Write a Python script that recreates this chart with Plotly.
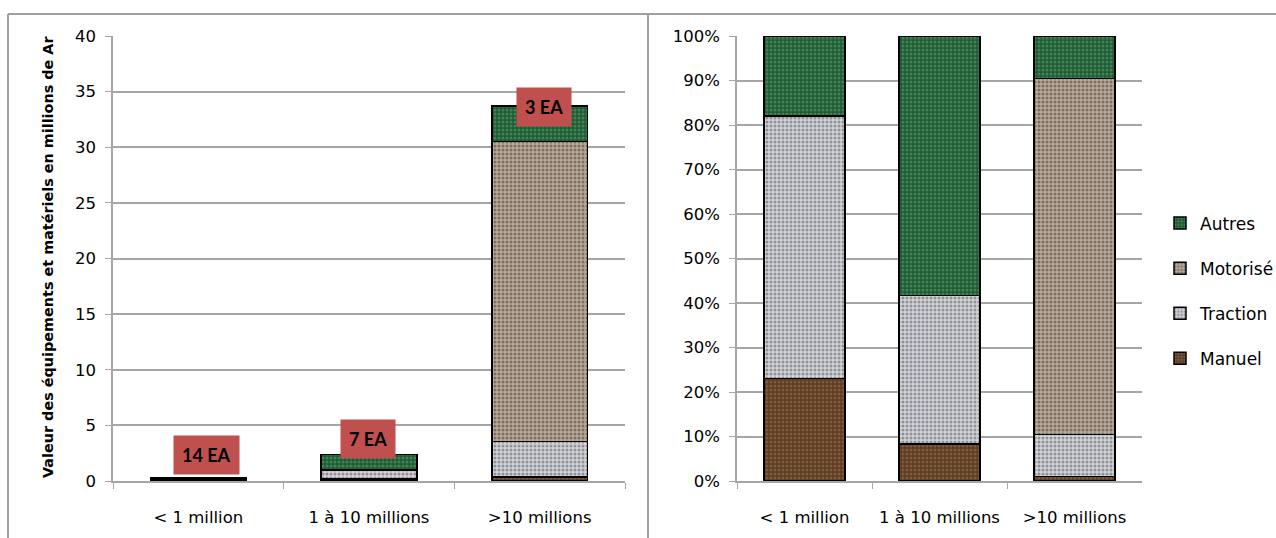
import plotly.graph_objects as go

# Farm size classes (value of equipment owned)
categories = ["< 1 million", "1 à 10 millions", ">10 millions"]

# Value of equipment and tools per class, in millions of Ar
manuel = [0.069, 0.20, 0.34]
traction = [0.177, 0.80, 3.20]
motorise = [0.0, 0.0, 26.96]
autres = [0.054, 1.40, 3.20]

# Number of farms (EA) in each class
ea_labels = ["14 EA", "7 EA", "3 EA"]

series = [
    ("Manuel", manuel),
    ("Traction", traction),
    ("Motorisé", motorise),
    ("Autres", autres),
]

# Textured-looking fills: base colour with a fine dotted grain on top
fills = {
    "Manuel": dict(bg="#5b3b22", fg="#7f5a3a"),
    "Traction": dict(bg="#d2d4d8", fg="#8e9096"),
    "Motorisé": dict(bg="#b9aa9a", fg="#7d6e60"),
    "Autres": dict(bg="#1f5a33", fg="#3f8257"),
}
legend_rank = {"Autres": 1, "Motorisé": 2, "Traction": 3, "Manuel": 4}

totals = [sum(v[i] for _, v in series) for i in range(len(categories))]

W, H = 1276, 538
FONT = "DejaVu Sans"
GRID = "#a6a6a6"

fig = go.Figure()

for name, vals in series:
    f = fills[name]
    marker = dict(
        color=f["bg"],
        line=dict(color="#000000", width=1.5),
        pattern=dict(shape=".", bgcolor=f["bg"], fgcolor=f["fg"],
                     size=4, solidity=0.45, fillmode="replace"),
    )
    # absolute values (left panel)
    fig.add_trace(go.Bar(
        x=categories, y=vals, name=name, marker=marker, width=0.56,
        xaxis="x", yaxis="y", showlegend=False, hoverinfo="skip",
    ))
    # share of each class total (right panel)
    pct = [v / t * 100 if t else 0 for v, t in zip(vals, totals)]
    fig.add_trace(go.Bar(
        x=categories, y=pct, name=name, marker=marker, width=0.6,
        xaxis="x2", yaxis="y2", showlegend=True, legendgroup=name,
        legendrank=legend_rank[name], hoverinfo="skip",
    ))

# farm-count labels above the left-panel bars
label_dx = [8, -1, 4]
label_dy = [23, 15, -1]
for i, (cat, txt) in enumerate(zip(categories, ea_labels)):
    fig.add_annotation(
        x=cat, y=totals[i], xref="x", yref="y",
        text=f"<b>{txt}</b>", showarrow=False,
        xshift=label_dx[i], yshift=label_dy[i],
        font=dict(family="Lato", size=18, color="#000000"),
        bgcolor="#c0504d", borderpad=8,
    )

ytop = 1 - 36 / H
ybot = 1 - 481 / H

# vertical title of the value axis
fig.add_annotation(
    x=48 / W, y=1 - 257 / H, xref="paper", yref="paper",
    xanchor="center", yanchor="middle",
    text="<b>Valeur des équipements et matériels en millions de Ar</b>",
    textangle=-90, showarrow=False,
    font=dict(family=FONT, size=14.4, color="#000000"),
)

axis_common = dict(
    showline=True, linecolor=GRID, linewidth=1.5, automargin=False,
    tickfont=dict(family=FONT, size=16.5, color="#000000"),
)

fig.update_layout(
    width=W, height=H,
    margin=dict(l=0, r=0, t=0, b=0, autoexpand=False),
    paper_bgcolor="white", plot_bgcolor="white",
    barmode="stack",
    font=dict(family=FONT, color="#000000"),
    xaxis=dict(
        domain=[113 / W, 625 / W], anchor="y",
        type="category", ticks="outside", ticklen=6, tickcolor=GRID,
        tickson="boundaries", ticklabelstandoff=20,
        **axis_common,
    ),
    yaxis=dict(
        domain=[ybot, ytop], anchor="x",
        range=[0, 40], dtick=5, tick0=0,
        ticks="outside", ticklen=6, tickcolor=GRID,
        showgrid=True, gridcolor=GRID, gridwidth=1.5, zeroline=False,
        ticklabelstandoff=6,
        **axis_common,
    ),
    xaxis2=dict(
        domain=[737 / W, 1142 / W], anchor="y2",
        type="category", ticks="outside", ticklen=6, tickcolor=GRID,
        tickson="boundaries", ticklabelstandoff=20,
        **axis_common,
    ),
    yaxis2=dict(
        domain=[ybot, ytop], anchor="x2",
        range=[0, 100], dtick=10, tick0=0, ticksuffix="%",
        ticks="outside", ticklen=6, tickcolor=GRID,
        showgrid=True, gridcolor=GRID, gridwidth=1.5, zeroline=False,
        ticklabelstandoff=6,
        **axis_common,
    ),
    legend=dict(
        x=1160 / W, y=1 - 291 / H, xanchor="left", yanchor="middle",
        traceorder="grouped", tracegroupgap=20,
        font=dict(family=FONT, size=17, color="#000000"),
        bgcolor="rgba(0,0,0,0)", itemwidth=30,
    ),
)

# outer frames of the two panels
frame = dict(color="#a0a0a0", width=2)
fig.add_shape(type="line", xref="paper", yref="paper",
              x0=8 / W, x1=1, y0=1 - 14 / H, y1=1 - 14 / H, line=frame)
fig.add_shape(type="line", xref="paper", yref="paper",
              x0=8 / W, x1=8 / W, y0=0, y1=1 - 14 / H, line=frame)
fig.add_shape(type="line", xref="paper", yref="paper",
              x0=648 / W, x1=648 / W, y0=0, y1=1 - 14 / H, line=frame)

fig.write_html(
    "out.html",
    post_script="document.body.style.margin='0';"
                "document.body.style.overflow='hidden';",
)
